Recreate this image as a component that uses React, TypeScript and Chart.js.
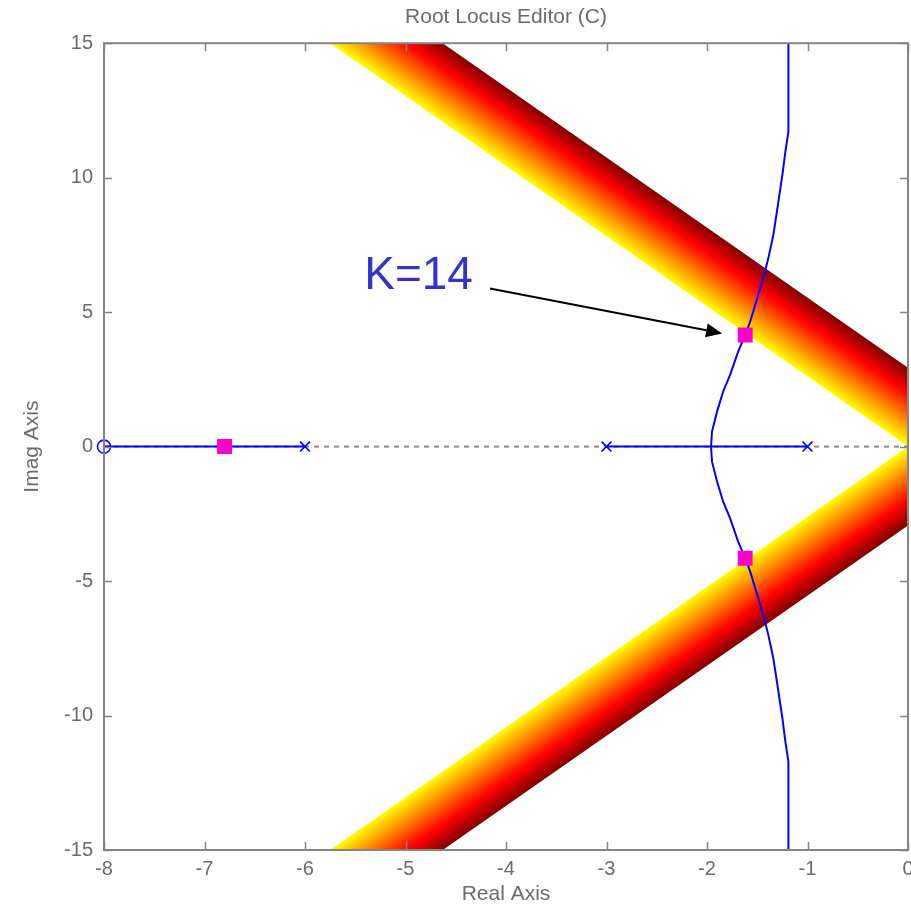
import React, { useEffect, useRef } from 'react';
import { Chart, registerables } from 'chart.js';

Chart.register(...registerables);

// ---- data ----
const xMin = -8;
const xMax = 0;
const yMin = -15;
const yMax = 15;
const xStep = 1;
const yStep = 5;

const zeroRe = [-8];
const zeroIm = [0];
const poleRe = [-6, -3, -1];
const poleIm = [0, 0, 0];

const locusSeg1Re = [-8, -6];
const locusSeg2Re = [-3, -1];

const branchRe = [
  -1.19, -1.19, -1.22, -1.25, -1.28, -1.31, -1.34, -1.39, -1.44, -1.51, -1.57, -1.62, -1.69, -1.77, -1.84, -1.9, -1.95, -1.96,
  -1.95, -1.9, -1.84, -1.77, -1.69, -1.62, -1.57, -1.51, -1.44, -1.39, -1.34, -1.31, -1.28, -1.25, -1.22, -1.19, -1.19,
];
const branchIm = [
  15, 11.7, 10.97, 10.1, 9.35, 8.6, 7.87, 7.0, 6.26, 5.39, 4.65, 4.15, 3.53, 2.67, 2.04, 1.3, 0.56, 0,
  -0.56, -1.3, -2.04, -2.67, -3.53, -4.15, -4.65, -5.39, -6.26, -7.0, -7.87, -8.6, -9.35, -10.1, -10.97, -11.7, -15,
];

const closedLoopRe = [-6.8, -1.62, -1.62];
const closedLoopIm = [0, 4.15, -4.15];

// band polygons: [inner edge start, inner edge end, outer edge end, outer edge start]
const bandUpperRe = [-5.75, 0, 0, -4.63];
const bandUpperIm = [15, 0, 2.93, 15];
const bandLowerRe = [-5.75, 0, 0, -4.63];
const bandLowerIm = [-15, 0, -2.93, -15];

const titleText = 'Root Locus Editor (C)';
const xTitle = 'Real Axis';
const yTitle = 'Imag Axis';
const gainLabel = 'K=14';
const gainLabelAt = [-4.87, 6.32];
const arrowFrom = [-4.16, 5.88];
const arrowTo = [-1.85, 4.21];

// ---- styles ----
const FONT = '"Liberation Sans", Arial, sans-serif';
const GRAY_TEXT = '#6b6b6b';
const AXIS_GRAY = '#858585';
const BLUE = '#0000ff';
const MAGENTA = '#ff00cc';

const pts = (re: number[], im: number[]) => re.map((x, i) => ({ x, y: im[i] }));

function bandGradient(chart: any, re: number[], im: number[]) {
  const xs = chart.scales.x;
  const ys = chart.scales.y;
  if (!xs || !ys || !chart.chartArea) return '#ff0000';
  const ax = xs.getPixelForValue(re[0]);
  const ay = ys.getPixelForValue(im[0]);
  const bx = xs.getPixelForValue(re[1]);
  const by = ys.getPixelForValue(im[1]);
  const cx = xs.getPixelForValue(re[2]);
  const cy = ys.getPixelForValue(im[2]);
  let ux = ax - bx;
  let uy = ay - by;
  const len = Math.hypot(ux, uy) || 1;
  ux /= len;
  uy /= len;
  const nx = -uy;
  const ny = ux;
  const d = (cx - bx) * nx + (cy - by) * ny;
  const g = chart.ctx.createLinearGradient(bx, by, bx + nx * d, by + ny * d);
  g.addColorStop(0, '#ffff00');
  g.addColorStop(0.68, '#ff0000');
  g.addColorStop(1, '#800000');
  return g;
}

const framePlugin = {
  id: 'framePlugin',
  afterDatasetsDraw(chart: any) {
    const { ctx, chartArea } = chart;
    const xs = chart.scales.x;
    const ys = chart.scales.y;
    ctx.save();

    // annotation arrow
    const x1 = xs.getPixelForValue(arrowFrom[0]);
    const y1 = ys.getPixelForValue(arrowFrom[1]);
    const x2 = xs.getPixelForValue(arrowTo[0]);
    const y2 = ys.getPixelForValue(arrowTo[1]);
    const ang = Math.atan2(y2 - y1, x2 - x1);
    const headLen = 16;
    const headW = 7;
    const bx = x2 - Math.cos(ang) * headLen;
    const by = y2 - Math.sin(ang) * headLen;
    ctx.strokeStyle = '#000000';
    ctx.lineWidth = 2;
    ctx.beginPath();
    ctx.moveTo(x1, y1);
    ctx.lineTo(bx, by);
    ctx.stroke();
    ctx.fillStyle = '#000000';
    ctx.beginPath();
    ctx.moveTo(x2, y2);
    ctx.lineTo(bx + Math.sin(ang) * headW, by - Math.cos(ang) * headW);
    ctx.lineTo(bx - Math.sin(ang) * headW, by + Math.cos(ang) * headW);
    ctx.closePath();
    ctx.fill();

    // annotation text
    ctx.fillStyle = '#3333cc';
    ctx.font = `46px ${FONT}`;
    ctx.textAlign = 'center';
    ctx.textBaseline = 'middle';
    ctx.fillText(gainLabel, xs.getPixelForValue(gainLabelAt[0]), ys.getPixelForValue(gainLabelAt[1]));

    // inward ticks
    const tl = 8;
    ctx.strokeStyle = AXIS_GRAY;
    ctx.lineWidth = 1.5;
    ctx.beginPath();
    xs.ticks.forEach((t: any) => {
      const px = Math.round(xs.getPixelForValue(t.value)) + 0.5;
      ctx.moveTo(px, chartArea.bottom);
      ctx.lineTo(px, chartArea.bottom - tl);
      ctx.moveTo(px, chartArea.top);
      ctx.lineTo(px, chartArea.top + tl);
    });
    ys.ticks.forEach((t: any) => {
      const py = Math.round(ys.getPixelForValue(t.value)) + 0.5;
      ctx.moveTo(chartArea.left, py);
      ctx.lineTo(chartArea.left + tl, py);
      ctx.moveTo(chartArea.right, py);
      ctx.lineTo(chartArea.right - tl, py);
    });
    ctx.stroke();

    // frame
    ctx.lineWidth = 2;
    ctx.strokeRect(chartArea.left, chartArea.top, chartArea.right - chartArea.left, chartArea.bottom - chartArea.top);
    ctx.restore();
  },
};

export default function App() {
  const ref = useRef<HTMLCanvasElement | null>(null);

  useEffect(() => {
    if (!ref.current) return;
    const chart = new Chart(ref.current, {
      type: 'line',
      data: {
        datasets: [
          {
            label: 'band upper',
            data: pts(bandUpperRe, bandUpperIm),
            fill: 'shape',
            borderWidth: 0,
            borderColor: 'rgba(0,0,0,0)',
            pointRadius: 0,
            backgroundColor: (c: any) => bandGradient(c.chart, bandUpperRe, bandUpperIm),
            order: 10,
          } as any,
          {
            label: 'band lower',
            data: pts(bandLowerRe, bandLowerIm),
            fill: 'shape',
            borderWidth: 0,
            borderColor: 'rgba(0,0,0,0)',
            pointRadius: 0,
            backgroundColor: (c: any) => bandGradient(c.chart, bandLowerRe, bandLowerIm),
            order: 10,
          } as any,
          {
            label: 'real axis',
            data: pts([xMin, xMax], [0, 0]),
            borderColor: '#8a8a8a',
            borderWidth: 2,
            borderDash: [5, 5],
            pointRadius: 0,
            fill: false,
            order: 8,
          },
          {
            label: 'imag axis',
            data: pts([0, 0], [yMin, yMax]),
            borderColor: '#8a8a8a',
            borderWidth: 2,
            borderDash: [5, 5],
            pointRadius: 0,
            fill: false,
            order: 8,
          },
          {
            label: 'locus 1',
            data: pts(locusSeg1Re, [0, 0]),
            borderColor: BLUE,
            borderWidth: 2,
            pointRadius: 0,
            fill: false,
            order: 5,
          },
          {
            label: 'locus 2',
            data: pts(locusSeg2Re, [0, 0]),
            borderColor: BLUE,
            borderWidth: 2,
            pointRadius: 0,
            fill: false,
            order: 5,
          },
          {
            label: 'branch',
            data: pts(branchRe, branchIm),
            borderColor: BLUE,
            borderWidth: 2,
            pointRadius: 0,
            tension: 0,
            fill: false,
            order: 5,
          },
          {
            label: 'poles',
            data: pts(poleRe, poleIm),
            showLine: false,
            pointStyle: 'crossRot',
            pointRadius: 7,
            pointBorderColor: BLUE,
            pointBorderWidth: 1.6,
            borderColor: BLUE,
            order: 2,
          },
          {
            label: 'zeros',
            data: pts(zeroRe, zeroIm),
            showLine: false,
            pointStyle: 'circle',
            pointRadius: 6.5,
            pointBorderColor: BLUE,
            pointBackgroundColor: 'rgba(0,0,0,0)',
            pointBorderWidth: 1.6,
            borderColor: BLUE,
            clip: false,
            order: 2,
          } as any,
          {
            label: 'closed loop poles',
            data: pts(closedLoopRe, closedLoopIm),
            showLine: false,
            pointStyle: 'rect',
            pointRadius: 10.6,
            pointBackgroundColor: MAGENTA,
            pointBorderColor: MAGENTA,
            pointBorderWidth: 0,
            borderColor: MAGENTA,
            order: 1,
          },
        ],
      },
      options: {
        responsive: false,
        devicePixelRatio: 1,
        animation: false,
        layout: { autoPadding: false, padding: { left: 0, right: 3, top: 0, bottom: 0 } },
        plugins: {
          legend: { display: false },
          tooltip: { enabled: false },
          title: {
            display: true,
            text: titleText,
            color: GRAY_TEXT,
            font: { family: FONT, size: 21, weight: 'normal' },
            padding: { top: 5, bottom: 13 },
            fullSize: false,
          } as any,
        },
        scales: {
          x: {
            type: 'linear',
            min: xMin,
            max: xMax,
            grid: { display: false, drawTicks: false },
            border: { display: false },
            ticks: {
              stepSize: xStep,
              padding: 7,
              color: GRAY_TEXT,
              font: { family: FONT, size: 20 },
            },
            title: {
              display: true,
              text: xTitle,
              color: GRAY_TEXT,
              font: { family: FONT, size: 21 },
              padding: { top: 0, bottom: 0 },
            },
            afterFit: (s: any) => {
              s.height = 57;
              s.paddingLeft = 0;
              s.paddingRight = 0;
            },
          },
          y: {
            type: 'linear',
            min: yMin,
            max: yMax,
            grid: { display: false, drawTicks: false },
            border: { display: false },
            ticks: {
              stepSize: yStep,
              padding: 11,
              color: GRAY_TEXT,
              font: { family: FONT, size: 20 },
            },
            title: {
              display: true,
              text: yTitle,
              color: GRAY_TEXT,
              font: { family: FONT, size: 21 },
              padding: { top: 20, bottom: 0 },
            },
            afterFit: (s: any) => {
              s.width = 104;
              s.paddingTop = 0;
              s.paddingBottom = 0;
            },
          },
        },
      },
      plugins: [framePlugin],
    } as any);
    return () => chart.destroy();
  }, []);

  return (
    <div style={{ position: 'absolute', left: 0, top: 0, width: 911, height: 907, background: '#ffffff' }}>
      <canvas ref={ref} width={911} height={907} style={{ display: 'block' }} />
    </div>
  );
}
